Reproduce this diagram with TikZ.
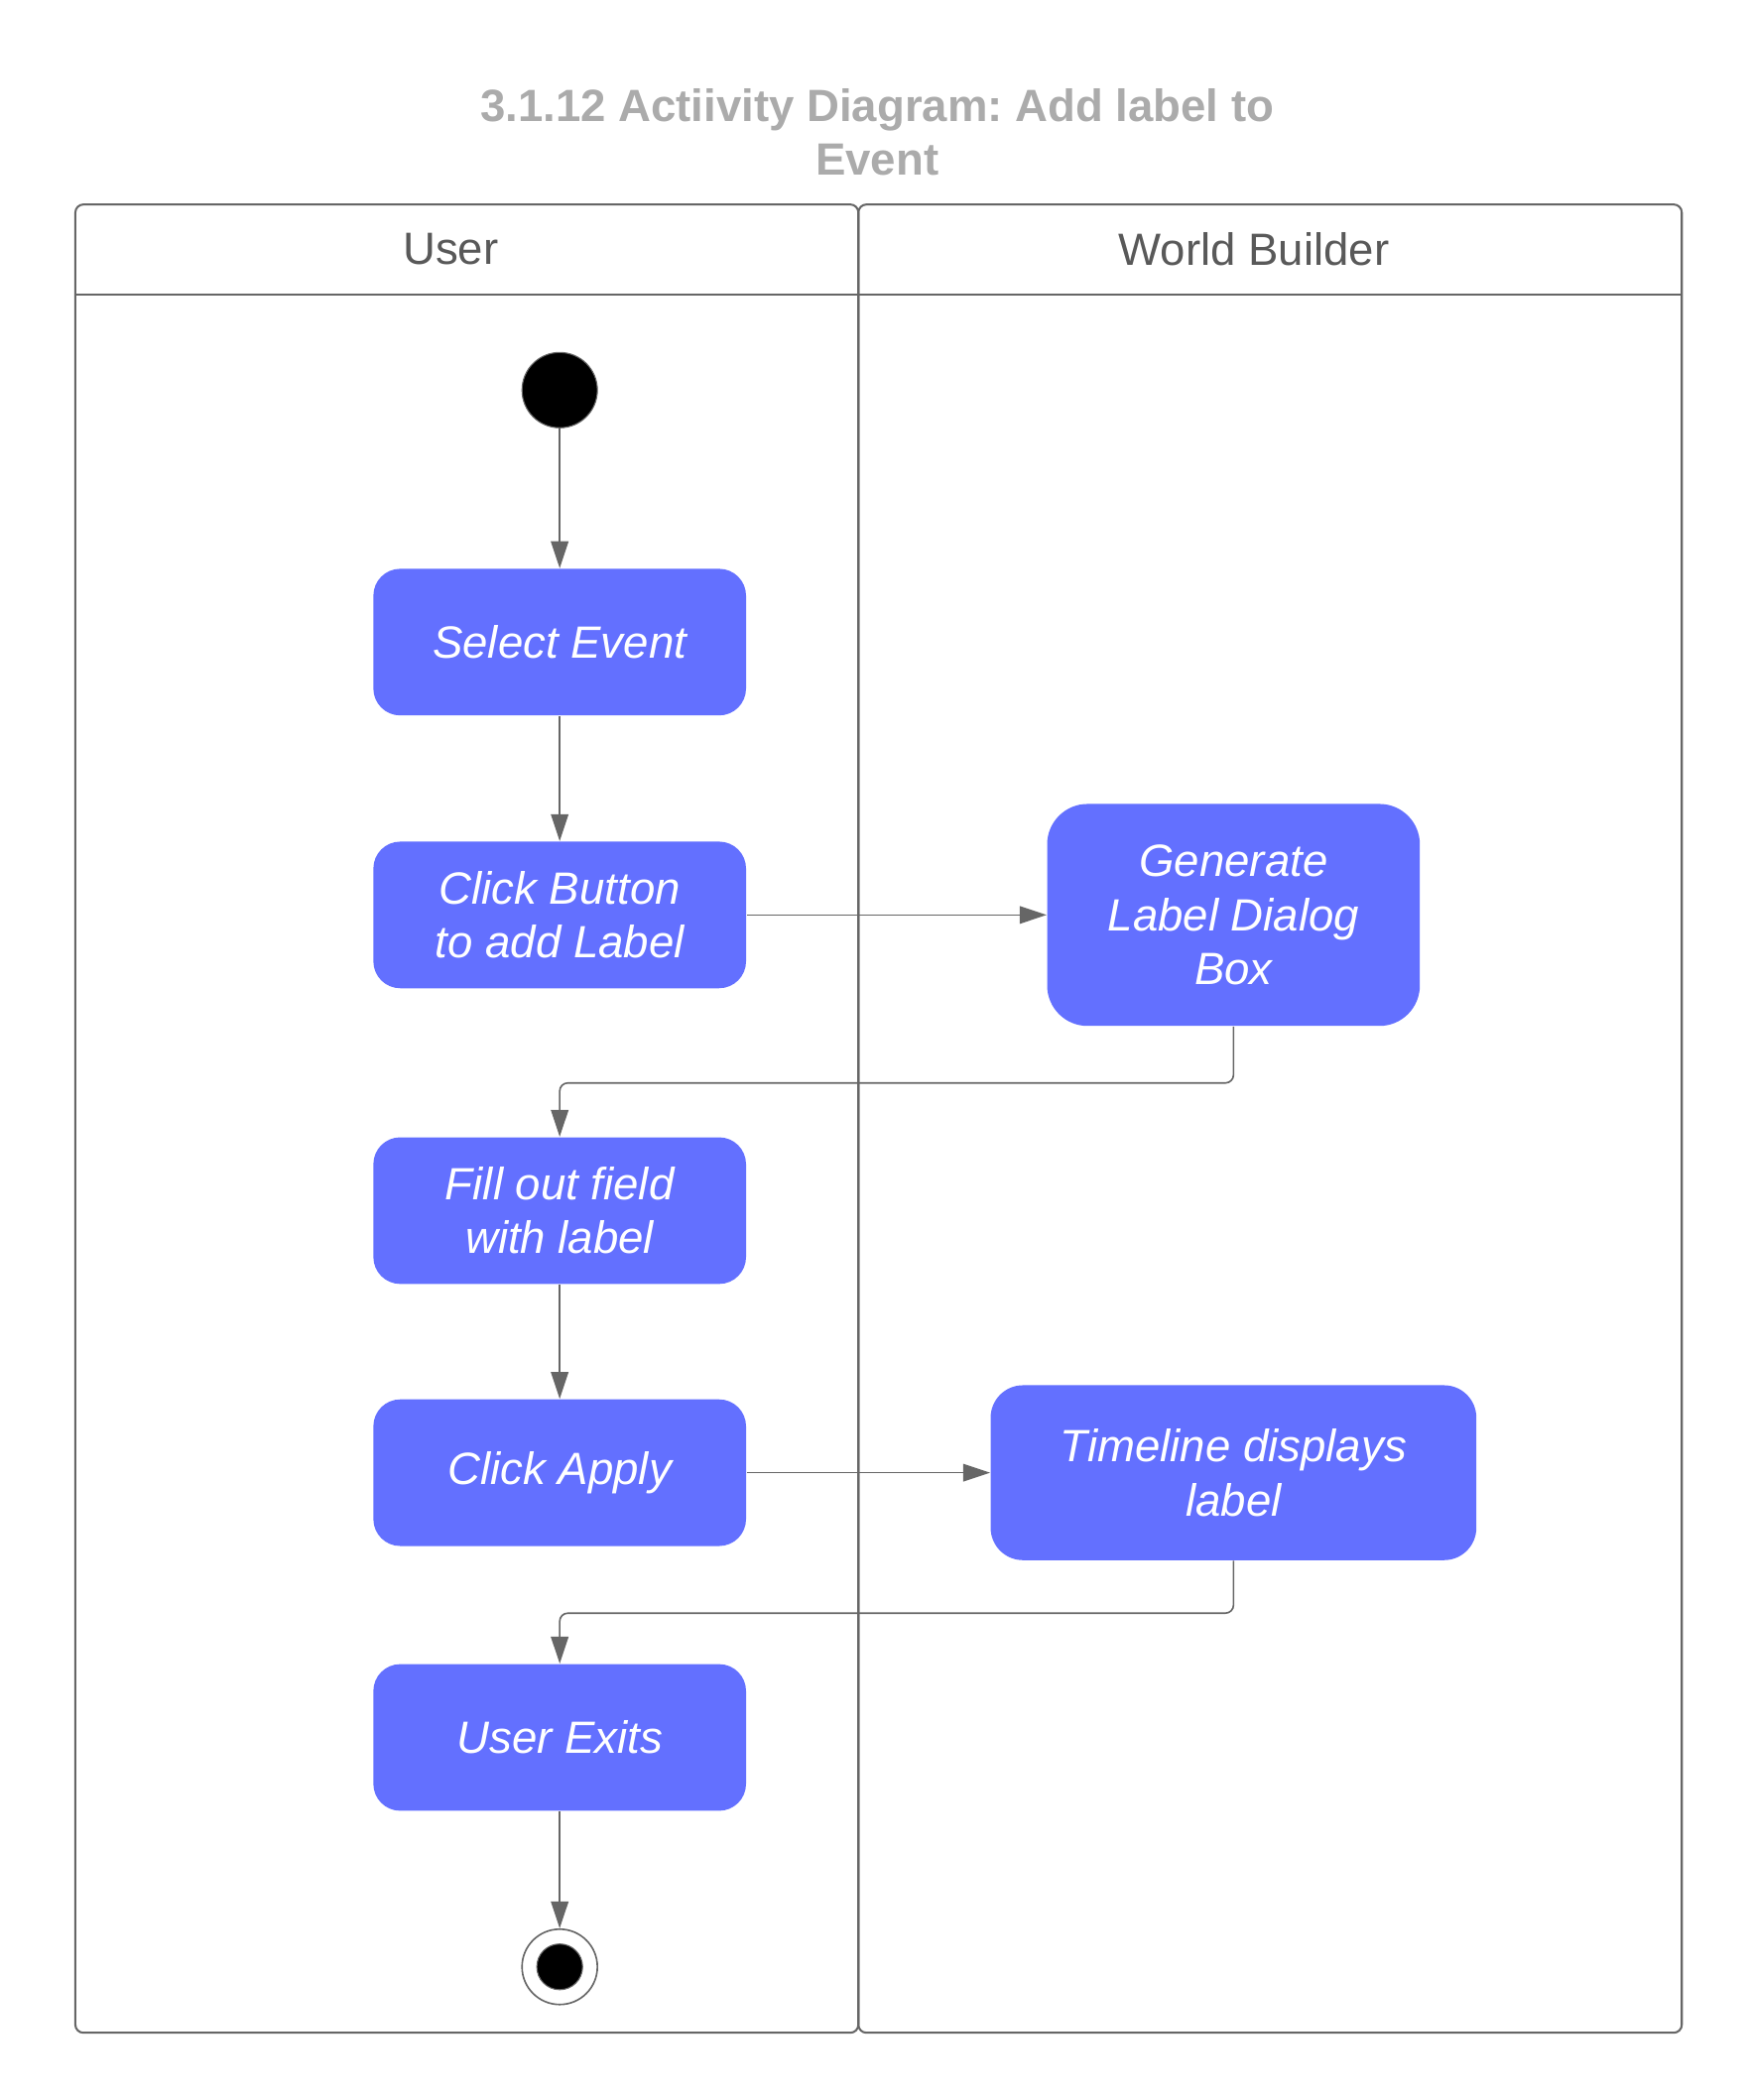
\documentclass[tikz,border=0pt]{standalone}
\usepackage{fontspec}
\setmainfont{Liberation Sans}
\usetikzlibrary{positioning,arrows.meta,shapes}
\definecolor{actfill}{HTML}{6370FF}
\definecolor{linegray}{HTML}{666666}
\definecolor{titlegray}{HTML}{ABABAB}
\definecolor{headgray}{HTML}{595959}

\begin{document}
\frenchspacing
\begin{tikzpicture} [x=0.5pt,y=-0.5pt,
    activity/.style={rectangle,rounded corners=10pt,fill=actfill,text=white,
      font=\fontsize{16.8}{20}\selectfont\itshape,align=center,
      minimum width=138.5pt,minimum height=54.5pt,inner sep=0pt},
    flow/.style={-{Triangle[width=6.5pt,length=10pt]},draw=linegray,line width=0.6pt,rounded corners=3pt},
    lane/.style={draw=linegray,line width=0.75pt,rounded corners=3pt},
    lanetitle/.style={text=headgray,font=\fontsize{16.8}{20}\selectfont}]
    \useasboundingbox (0,0) rectangle (1300,1561);

    \node[text=titlegray,font=\fontsize{16.8}{20}\selectfont\bfseries,align=center] (title) at (652,98) {3.1.12 Actiivity Diagram: Add label to\\Event};

    % swimlanes
    \draw[lane] (56,152) rectangle (638,1511);
    \draw[lane] (638,152) rectangle (1250,1511);
    \draw[linegray,line width=0.75pt] (56,219) -- (1250,219);
    \node[lanetitle] (user) at (335,185) {User};
    \node[lanetitle] (builder) at (932,185) {World Builder};

    % user lane
    \node[draw=linegray,fill=black,circle,minimum size=28pt,inner sep=0pt] (start) at (416,290) {};
    \node[activity,below=52pt of start] (select) {Select Event};
    \node[activity,below=46.5pt of select] (click) {Click Button\\to add Label};
    \node[activity,below=55pt of click] (fill) {Fill out field\\with label};
    \node[activity,below=42.5pt of fill] (apply) {Click Apply};
    \node[activity,below=43.5pt of apply] (exits) {User Exits};
    \node[draw=linegray,fill=white,circle,line width=0.6pt,minimum size=28pt,inner sep=0pt,below=43.5pt of exits] (end) {};
    \node[draw=linegray,fill=black,circle,minimum size=17pt,inner sep=0pt] (endfill) at (end) {};

    % world builder lane
    \node[activity,rounded corners=15pt,minimum height=82.5pt,right=111.5pt of click] (generate) {Generate\\Label Dialog\\Box};
    \node[activity,rounded corners=12pt,minimum width=180.5pt,minimum height=65pt,right=90.5pt of apply] (timeline) {Timeline displays\\label};

    \draw[flow] (start) -- (select);
    \draw[flow] (select) -- (click);
    \draw[flow] (click) -- (generate);
    \draw[flow] (generate.south) -- ++(0,42) -| (fill.north);
    \draw[flow] (fill) -- (apply);
    \draw[flow] (apply) -- (timeline);
    \draw[flow] (timeline.south) -- ++(0,39) -| (exits.north);
    \draw[flow] (exits) -- (end);
\end{tikzpicture}
\end{document}
